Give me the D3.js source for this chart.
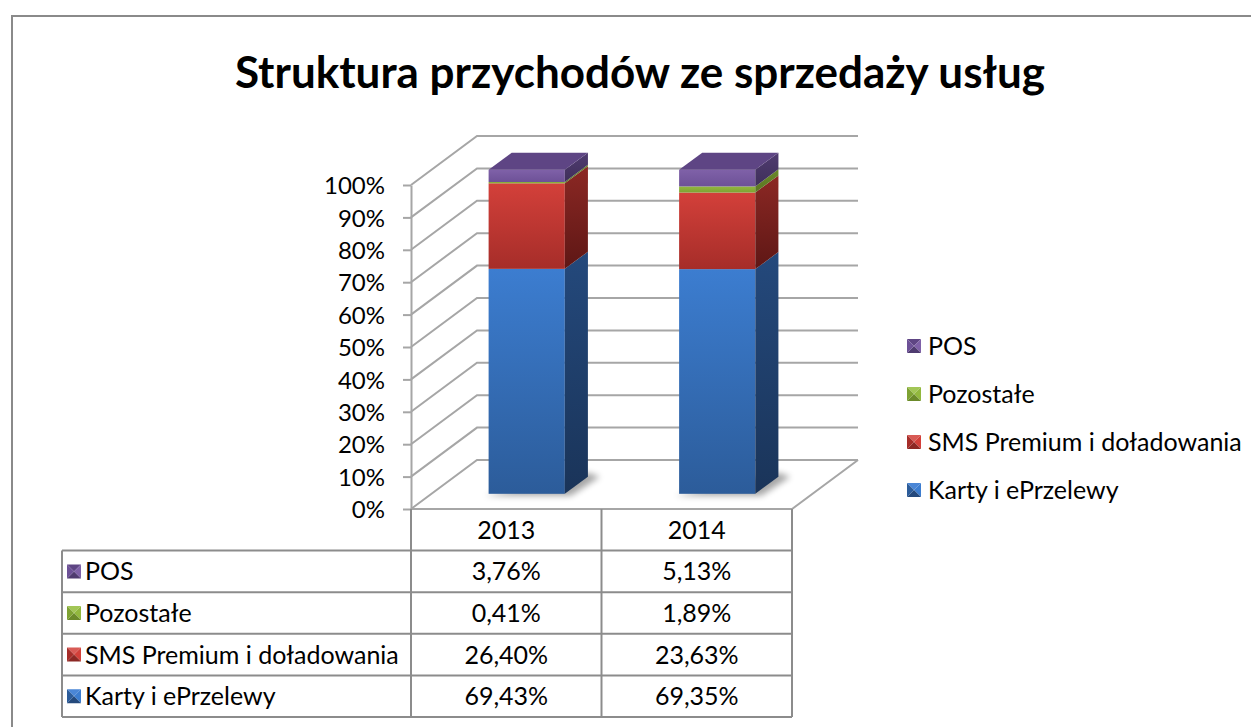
<!DOCTYPE html>
<html>
<head>
<meta charset="utf-8">
<script src="https://cdn.jsdelivr.net/npm/d3@7"></script>
<style>
  body { margin: 0; background: #fff; }
  text { font-family: Lato, "Open Sans", sans-serif; fill: #000; }
</style>
</head>
<body>
<div id="main"></div>
<script>
// --- data
const categories = ['2013', '2014'];
const seriesNames = ['Karty i ePrzelewy', 'SMS Premium i doładowania', 'Pozostałe', 'POS'];
const kartyValues = [69.43, 69.35];
const smsValues = [26.40, 23.63];
const pozostaleValues = [0.41, 1.89];
const posValues = [3.76, 5.13];
const yTicks = [0, 10, 20, 30, 40, 50, 60, 70, 80, 90, 100];
const title = 'Struktura przychodów ze sprzedaży usług';

// --- colours per series: [front top, front bottom, side top, side bottom, top face]
const palette = {
  'Karty i ePrzelewy': ['#3c7dd0', '#2c5c9a', '#24497c', '#1a3459', '#4a86d6'],
  'SMS Premium i doładowania': ['#d3403a', '#a62d29', '#8c2824', '#5e1715', '#d85a55'],
  'Pozostałe': ['#92b83e', '#7ea233', '#6b8a2a', '#5a7522', '#a2c656'],
  'POS': ['#7f61a8', '#6d5197', '#4f3b70', '#3f2f5a', '#5e4584']
};

const W = 1251, H = 727;
const depth = { dx: 66, dy: -49 };     // front plane -> back wall
const barDepth = [0.31, 0.66];         // bar front / back as fraction of depth
const fontSize = '25px';

const rows = categories.map((c, i) => ({
  year: c,
  'Karty i ePrzelewy': kartyValues[i],
  'SMS Premium i doładowania': smsValues[i],
  'Pozostałe': pozostaleValues[i],
  'POS': posValues[i]
}));
const stacked = d3.stack().keys(seriesNames)(rows);

const pl = d3.formatLocale({ decimal: ',', thousands: ' ', grouping: [3], currency: ['', ' zł'] });
const fmtPct = v => pl.format('.2f')(v) + '%';

const svg = d3.select('#main').append('svg').attr('width', W).attr('height', H);
const defs = svg.append('defs');

// outer frame
svg.append('rect')
  .attr('x', 12).attr('y', 16).attr('width', W).attr('height', H)
  .attr('fill', 'none').attr('stroke', '#8a8a8a').attr('stroke-width', 2);

svg.append('text')
  .attr('x', 640).attr('y', 88)
  .attr('text-anchor', 'middle')
  .style('font-weight', 'bold').style('font-size', '44px')
  .text(title);

// scales (front plane of the 3D box)
const xScale = d3.scaleBand().domain(categories).range([411, 792]).paddingInner(0).paddingOuter(0);
const yScale = d3.scaleLinear().domain([0, 100]).range([509, 185]);
const proj = (x, y, f) => [x + f * depth.dx, y + f * depth.dy];

// walls & gridlines
const grid = svg.append('g').attr('fill', 'none').attr('stroke', '#a6a6a6').attr('stroke-width', 2);
const xRight = xScale.range()[1];
grid.selectAll('path.grid')
  .data(yTicks)
  .join('path')
  .attr('class', 'grid')
  .attr('d', t => {
    const y = yScale(t);
    const b = proj(411, y, 1);
    return d3.line()([[411, y], b, [xRight + depth.dx, b[1]]]);
  });
// floor right edge
grid.append('path')
  .attr('d', d3.line()([[411, yScale(0)], [xRight, yScale(0)], proj(xRight, yScale(0), 1)]));

// y axis
const yAxis = svg.append('g')
  .attr('transform', 'translate(411,0)')
  .call(d3.axisLeft(yScale).tickValues(yTicks).tickFormat(d => d + '%').tickSize(8).tickSizeOuter(0));
yAxis.select('.domain').attr('stroke', '#a6a6a6').attr('stroke-width', 2);
yAxis.selectAll('.tick line').attr('stroke', '#a6a6a6').attr('stroke-width', 2);
yAxis.selectAll('.tick text')
  .attr('x', -26).attr('dy', '0.36em')
  .style('font-size', '24px').style('font-family', 'Lato, sans-serif').attr('fill', '#000');

// gradients
seriesNames.forEach((s, i) => {
  const p = palette[s];
  [['front', p[0], p[1]], ['side', p[2], p[3]]].forEach(([face, c0, c1]) => {
    const g = defs.append('linearGradient')
      .attr('id', `g-${face}-${i}`)
      .attr('x1', 0).attr('y1', 0).attr('x2', 0).attr('y2', 1);
    g.append('stop').attr('offset', 0).attr('stop-color', c0);
    g.append('stop').attr('offset', 1).attr('stop-color', c1);
  });
});
defs.append('filter').attr('id', 'blur').attr('x', '-50%').attr('y', '-50%').attr('width', '200%').attr('height', '200%')
  .append('feGaussianBlur').attr('stdDeviation', 3);

// bars
const barW = xScale.bandwidth() * 0.40;
const [f0, f1] = barDepth;
const bars = svg.append('g');

categories.forEach((c, ci) => {
  const bx = xScale(c) + (xScale.bandwidth() - barW) / 2;
  const [x0, yb0] = proj(bx, yScale(0), f0);
  const x1 = x0 + barW;
  const ddx = (f1 - f0) * depth.dx, ddy = (f1 - f0) * depth.dy;

  // soft shadow on the floor
  bars.append('path')
    .attr('d', d3.line()([[x0 - 4, yb0 + 2], [x1 + 6, yb0 + 2], [x1 + ddx + 12, yb0 + ddy], [x1 + ddx, yb0 + ddy - 4]]))
    .attr('fill', '#000').attr('opacity', 0.35).attr('filter', 'url(#blur)');

  stacked.forEach((layer, si) => {
    const [v0, v1] = layer[ci];
    const ya = yScale(v0) + f0 * depth.dy;
    const yt = yScale(v1) + f0 * depth.dy;
    bars.append('rect')
      .attr('x', x0).attr('y', yt).attr('width', barW).attr('height', ya - yt)
      .attr('fill', `url(#g-front-${si})`);
    bars.append('path')
      .attr('d', d3.line()([[x1, ya], [x1, yt], [x1 + ddx, yt + ddy], [x1 + ddx, ya + ddy]]) + 'Z')
      .attr('fill', `url(#g-side-${si})`);
    if (si === stacked.length - 1) {
      bars.append('path')
        .attr('d', d3.line()([[x0, yt], [x1, yt], [x1 + ddx, yt + ddy], [x0 + ddx, yt + ddy]]) + 'Z')
        .attr('fill', palette[layer.key][4]);
    }
  });
});

// legend marker (pyramid-bevel square)
function marker(g, s, x, y, size) {
  const p = palette[s];
  const c = [x + size / 2, y + size / 2];
  const pts = [[x, y], [x + size, y], [x + size, y + size], [x, y + size]];
  const shades = [p[4], p[0], p[2], p[1]];
  for (let k = 0; k < 4; k++) {
    g.append('path').attr('d', d3.line()([pts[k], pts[(k + 1) % 4], c]) + 'Z').attr('fill', shades[k]);
  }
}

// right legend
const legendOrder = seriesNames.slice().reverse();
const legendY = d3.scalePoint().domain(legendOrder).range([346, 490]);
const legend = svg.append('g');
legendOrder.forEach(s => {
  marker(legend, s, 907, legendY(s) - 7, 14);
  legend.append('text')
    .attr('x', 928).attr('y', legendY(s)).attr('dy', '0.36em')
    .style('font-size', fontSize)
    .text(s);
});

// data table
const tableLeft = 62;
const rowY = d3.scaleBand().domain(['header'].concat(legendOrder)).range([509, 717]);
const table = svg.append('g');
const lineCol = '#8c8c8c';
const colEdges = [xScale.range()[0]].concat(categories.map(c => xScale(c) + xScale.bandwidth()));

// header texts
table.selectAll('text.head')
  .data(categories)
  .join('text')
  .attr('class', 'head')
  .attr('x', c => xScale(c) + xScale.bandwidth() / 2)
  .attr('y', rowY('header') + rowY.bandwidth() / 2).attr('dy', '0.36em')
  .attr('text-anchor', 'middle').style('font-size', fontSize)
  .text(c => c);

const valuesBySeries = {
  'Karty i ePrzelewy': kartyValues,
  'SMS Premium i doładowania': smsValues,
  'Pozostałe': pozostaleValues,
  'POS': posValues
};

legendOrder.forEach(s => {
  const cy = rowY(s) + rowY.bandwidth() / 2;
  marker(table, s, 67, cy - 7, 14);
  table.append('text')
    .attr('x', 85).attr('y', cy).attr('dy', '0.36em')
    .style('font-size', fontSize).text(s);
  categories.forEach((c, ci) => {
    table.append('text')
      .attr('x', xScale(c) + xScale.bandwidth() / 2).attr('y', cy).attr('dy', '0.36em')
      .attr('text-anchor', 'middle').style('font-size', fontSize)
      .text(fmtPct(valuesBySeries[s][ci]));
  });
});

// table grid lines
const tl = table.append('g').attr('stroke', lineCol).attr('stroke-width', 2).attr('fill', 'none');
colEdges.forEach(x => {
  tl.append('line').attr('x1', x).attr('x2', x).attr('y1', rowY('header')).attr('y2', 717);
});
tl.append('line').attr('x1', tableLeft).attr('x2', tableLeft).attr('y1', rowY(legendOrder[0])).attr('y2', 717);
legendOrder.forEach(s => {
  tl.append('line').attr('x1', tableLeft).attr('x2', colEdges[colEdges.length - 1])
    .attr('y1', rowY(s)).attr('y2', rowY(s));
});
tl.append('line').attr('x1', tableLeft).attr('x2', colEdges[colEdges.length - 1]).attr('y1', 717).attr('y2', 717);
</script>
</body>
</html>
